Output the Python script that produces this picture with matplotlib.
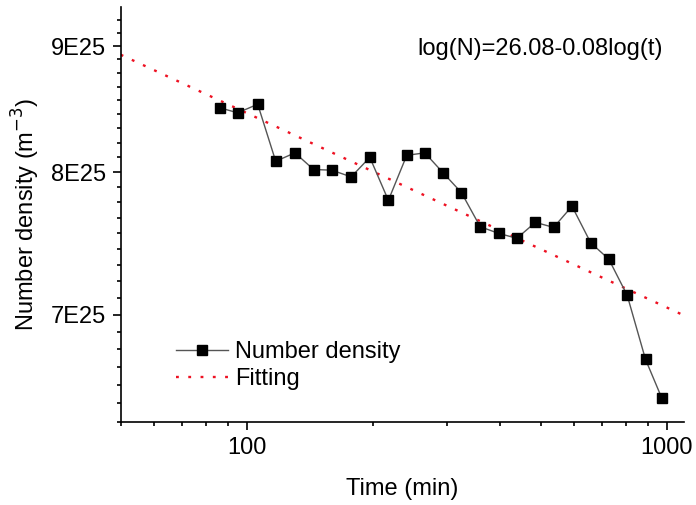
import numpy as np
import matplotlib
matplotlib.use("Agg")
import matplotlib.pyplot as plt
from matplotlib.ticker import FixedLocator, NullFormatter, FixedFormatter

plt.rcParams['font.family'] = ['Liberation Sans', 'DejaVu Sans']

# data
time_min = [86, 95, 106, 117, 130, 144, 159, 177, 196, 217, 240, 265, 293,
            324, 359, 397, 439, 486, 537, 594, 658, 727, 804, 889, 971]
number_density = [8.496e25, 8.456e25, 8.524e25, 8.081e25, 8.145e25, 8.019e25,
                  8.014e25, 7.964e25, 8.111e25, 7.791e25, 8.126e25, 8.145e25,
                  7.994e25, 7.847e25, 7.601e25, 7.554e25, 7.519e25, 7.632e25,
                  7.596e25, 7.748e25, 7.488e25, 7.373e25, 7.128e25, 6.713e25,
                  6.477e25]
fit_intercept = 26.085
fit_slope = -0.079
equation_text = "log(N)=26.08-0.08log(t)"
x_limits = [50, 1100]
y_limits = [6.3333e25, 9.3333e25]
y_major = [7e25, 8e25, 9e25]
y_major_labels = ["7E25", "8E25", "9E25"]
x_major = [100, 1000]
x_major_labels = ["100", "1000"]

fig = plt.figure(figsize=(6.96, 5.05), dpi=100)
ax = fig.add_axes([0.1734, 0.1650, 0.8099, 0.8205])

ax.set_xscale('log')
ax.set_yscale('log')

fit_t = np.array(x_limits, dtype=float)
fit_n = 10 ** (fit_intercept + fit_slope * np.log10(fit_t))

ax.plot(time_min, number_density, color='#555555', lw=1.0, marker='s',
        markersize=6.8, markerfacecolor='black', markeredgecolor='black',
        label='Number density', zorder=3)
ax.plot(fit_t, fit_n, color='#ee1122', lw=1.7, linestyle=(0, (1.2, 4.0)),
        label='Fitting', zorder=2)

ax.set_xlim(*x_limits)
ax.set_ylim(*y_limits)

ax.xaxis.set_major_locator(FixedLocator(x_major))
ax.xaxis.set_major_formatter(FixedFormatter(x_major_labels))
x_minor = [m * d for d in (10, 100) for m in range(2, 10)]
ax.xaxis.set_minor_locator(FixedLocator([v for v in x_minor if 50 <= v <= 1000]))
ax.xaxis.set_minor_formatter(NullFormatter())

ax.yaxis.set_major_locator(FixedLocator(y_major))
ax.yaxis.set_major_formatter(FixedFormatter(y_major_labels))
y_minor = [(6 + k / 9) * 1e25 for k in range(3, 31)]
ax.yaxis.set_minor_locator(FixedLocator(y_minor))
ax.yaxis.set_minor_formatter(NullFormatter())

for s in ('top', 'right'):
    ax.spines[s].set_visible(False)
for s in ('left', 'bottom'):
    ax.spines[s].set_linewidth(1.2)

ax.tick_params(which='major', direction='out', length=5.8, width=1.2,
               labelsize=17, pad=5)
ax.tick_params(which='minor', direction='out', length=3.0, width=1.2)

ax.set_xlabel('Time (min)', fontsize=17, labelpad=14)
ax.set_ylabel('Number density (m$^{-3}$)', fontsize=17, labelpad=6)

ax.text(0.962, 0.925, equation_text, transform=ax.transAxes, fontsize=17,
        ha='right', va='top')

ax.legend(loc='lower left', bbox_to_anchor=(0.06, 0.025), frameon=False,
          fontsize=17, handlelength=2.2, handletextpad=0.3, labelspacing=0.2)

fig.savefig('out.png', dpi=100)
